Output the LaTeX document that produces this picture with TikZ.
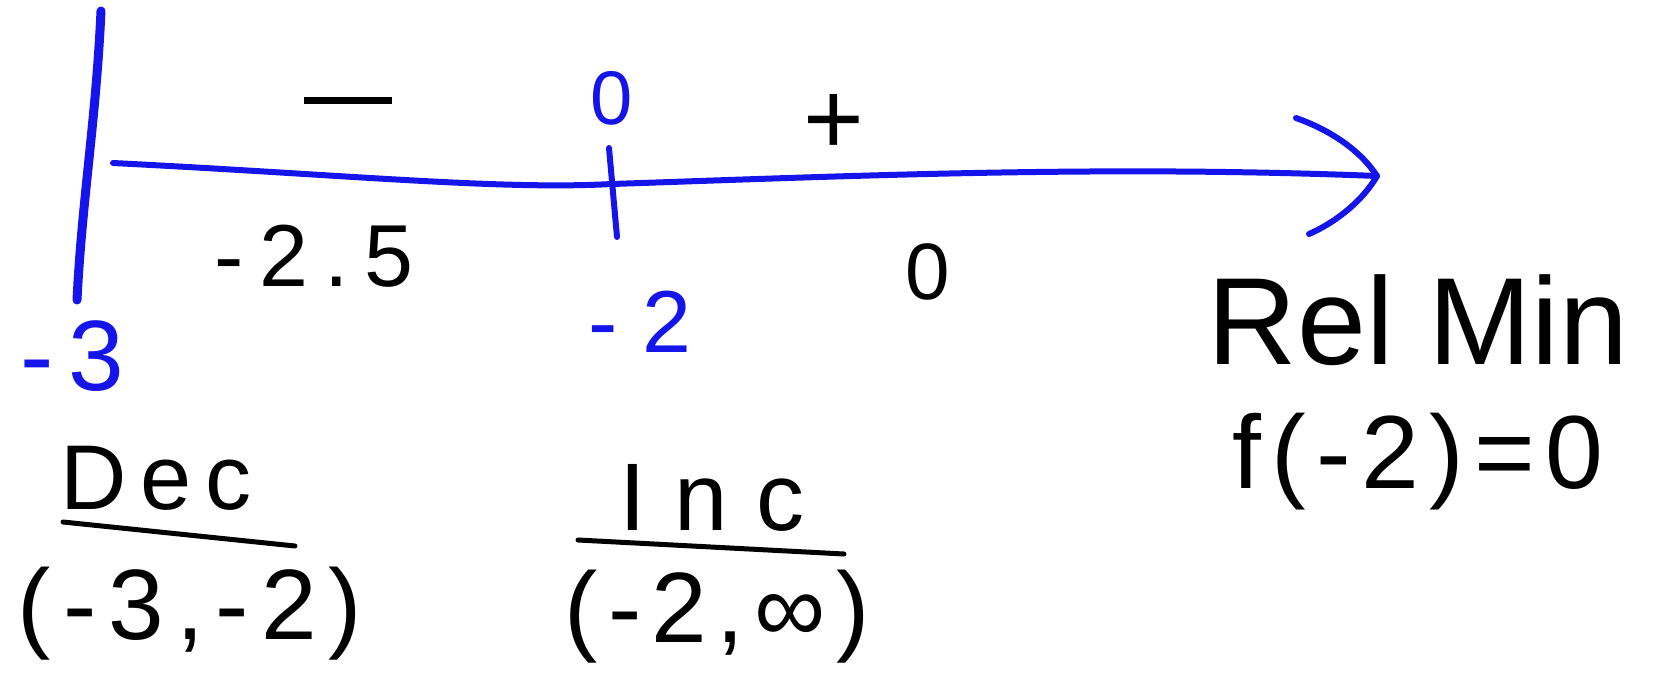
\documentclass[tikz,border=0pt]{standalone}
\usepackage{fontspec}
\setmainfont{Liberation Sans}
\definecolor{pen}{RGB}{20,20,235}
\begin{document}
\begin{tikzpicture}[x=0.5pt,y=-0.5pt,
  bluestroke/.style={draw=pen,line width=3pt,line cap=round,line join=round},
  inktext/.style={inner sep=0pt,text=black},
  bluetext/.style={inner sep=0pt,text=pen},
  ulline/.style={draw=black,line width=2.5pt,line cap=round}]
\useasboundingbox (0,0) rectangle (1654,686);
% vertical boundary line
\coordinate (vt) at (101,11);
\coordinate (vb) at (77,300);
\draw[bluestroke,line width=4.5pt] (vt) .. controls (96,120) and (82,200) .. (vb);
% axis
\coordinate (a0) at (113,163);
\coordinate (tip) at (1377,176);
\draw[bluestroke] (a0) .. controls (350,175) and (500,190) .. (612,184)
   .. controls (850,176) and (1100,165) .. (tip);
\coordinate (h1) at (1296,118);
\coordinate (h2) at (1309,234);
\draw[bluestroke] (h1) .. controls (1330,130) and (1360,150) .. (tip) .. controls (1360,205) and (1330,225) .. (h2);
% tick at -2
\coordinate (t1) at (609,148);
\coordinate (t2) at (617,237);
\draw[bluestroke] (t1) -- (t2);
% signs
\node[inktext] (minus) at (348,100) {\rule{44pt}{3.5pt}};
\node[inktext,font=\fontsize{52}{52}\selectfont] (plus) at (834,124) {+};
\node[bluetext,font=\fontsize{38}{38}\selectfont] (bzero) at (612,98) {0};
% values
\node[inktext,font=\fontsize{44}{44}\selectfont\addfontfeature{LetterSpace=18}] (v1) at (314,256) {-2.5};
\node[inktext,font=\fontsize{40}{40}\selectfont] (v2) at (928,272) {0};
% x labels
\node[bluetext,font=\fontsize{50}{50}\selectfont\addfontfeature{LetterSpace=15}] (xm3) at (72,356) {-3};
\node[bluetext,font=\fontsize{44}{44}\selectfont] (xm2) at (640,322) {- 2};
% rel min
\node[inktext,font=\fontsize{62}{62}\selectfont] (rel) at (1418,320) {Rel Min};
\node[inktext,font=\fontsize{52}{52}\selectfont\addfontfeature{LetterSpace=10}] (fval) at (1418,462) {f(-2)=0};
% dec / inc
\node[inktext,font=\fontsize{46}{46}\selectfont\addfontfeature{LetterSpace=15}] (dec) at (156,478) {Dec};
\coordinate (du1) at (63,522);
\coordinate (du2) at (295,546);
\draw[ulline] (du1) -- (du2);
\node[inktext,font=\fontsize{50}{50}\selectfont\addfontfeature{LetterSpace=12}] (decint) at (190,614) {(-3,-2)};
\node[inktext,font=\fontsize{48}{48}\selectfont\addfontfeature{LetterSpace=30}] (inc) at (712,498) {Inc};
\coordinate (iu1) at (578,540);
\coordinate (iu2) at (844,554);
\draw[ulline] (iu1) -- (iu2);
\node[inktext,font=\fontsize{50}{50}\selectfont\addfontfeature{LetterSpace=10}] (incint) at (717,617) {(-2,∞)};
\end{tikzpicture}
\end{document}
